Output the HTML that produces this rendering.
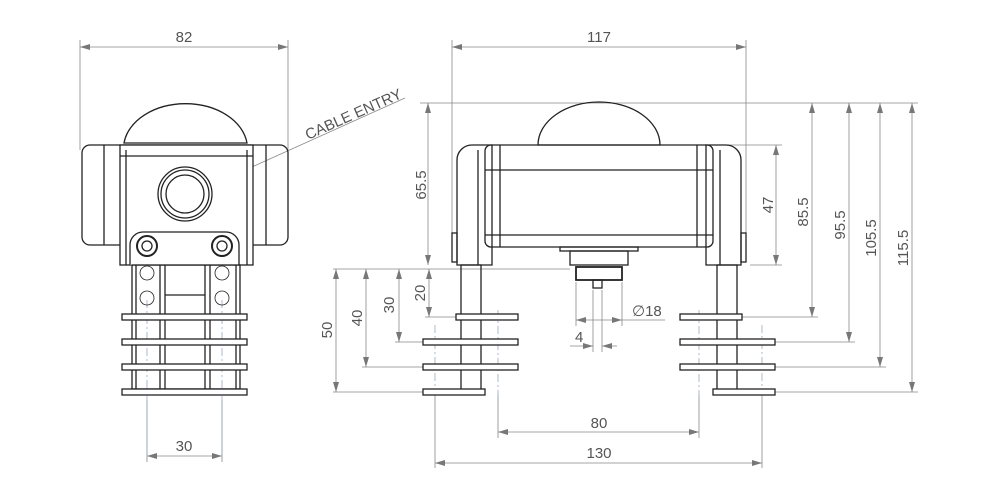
<!DOCTYPE html>
<html><head><meta charset="utf-8"><style>
html,body{margin:0;padding:0;background:#fff;}
svg{display:block;}
text{font-family:"Liberation Sans",sans-serif;fill:#555;font-size:15px;}
</style></head><body>
<svg width="996" height="500" viewBox="0 0 996 500" xmlns="http://www.w3.org/2000/svg">
<defs>
<marker id="a" viewBox="0 0 10 6" refX="10" refY="3" markerWidth="10" markerHeight="6" orient="auto-start-reverse" markerUnits="userSpaceOnUse"><path d="M0,0 L10,3 L0,6 Z" fill="#777"/></marker>
</defs>
<g stroke="#888" stroke-width="0.8" fill="none">
<!-- left view dims -->
<line x1="80" y1="40" x2="80" y2="150"/><line x1="288" y1="40" x2="288" y2="150"/>
<line x1="80" y1="47" x2="288" y2="47" marker-start="url(#a)" marker-end="url(#a)"/>
<line x1="147" y1="400" x2="147" y2="462"/><line x1="222" y1="400" x2="222" y2="462"/>
<line x1="147" y1="456" x2="222" y2="456" marker-start="url(#a)" marker-end="url(#a)"/>
<line x1="152" y1="212" x2="405" y2="98"/>
<!-- right view dims -->
<line x1="452" y1="40" x2="452" y2="235"/><line x1="746" y1="40" x2="746" y2="235"/>
<line x1="452" y1="47" x2="746" y2="47" marker-start="url(#a)" marker-end="url(#a)"/>
<line x1="420" y1="103" x2="918" y2="103"/>
<line x1="428" y1="103" x2="428" y2="265" marker-start="url(#a)" marker-end="url(#a)"/>
<line x1="700" y1="145" x2="782" y2="145"/><line x1="750" y1="265" x2="782" y2="265"/>
<line x1="776" y1="145" x2="776" y2="265" marker-start="url(#a)" marker-end="url(#a)"/>
<line x1="742" y1="317" x2="818" y2="317"/><line x1="775" y1="342" x2="855" y2="342"/>
<line x1="775" y1="367" x2="886" y2="367"/><line x1="775" y1="392" x2="918" y2="392"/>
<line x1="812" y1="103" x2="812" y2="317" marker-start="url(#a)" marker-end="url(#a)"/>
<line x1="849" y1="103" x2="849" y2="342" marker-start="url(#a)" marker-end="url(#a)"/>
<line x1="880" y1="103" x2="880" y2="367" marker-start="url(#a)" marker-end="url(#a)"/>
<line x1="912" y1="103" x2="912" y2="392" marker-start="url(#a)" marker-end="url(#a)"/>
<line x1="333" y1="269" x2="570" y2="269"/>
<line x1="425" y1="317" x2="456" y2="317"/><line x1="395" y1="342" x2="423" y2="342"/>
<line x1="362" y1="367" x2="423" y2="367"/><line x1="333" y1="392" x2="423" y2="392"/>
<line x1="429" y1="269" x2="429" y2="317" marker-start="url(#a)" marker-end="url(#a)"/>
<line x1="399" y1="269" x2="399" y2="342" marker-start="url(#a)" marker-end="url(#a)"/>
<line x1="366" y1="269" x2="366" y2="367" marker-start="url(#a)" marker-end="url(#a)"/>
<line x1="336" y1="269" x2="336" y2="392" marker-start="url(#a)" marker-end="url(#a)"/>
<line x1="435" y1="395" x2="435" y2="468"/><line x1="498" y1="395" x2="498" y2="438"/>
<line x1="699" y1="395" x2="699" y2="438"/><line x1="762" y1="395" x2="762" y2="468"/>
<line x1="498" y1="432" x2="699" y2="432" marker-start="url(#a)" marker-end="url(#a)"/>
<line x1="435" y1="463" x2="762" y2="463" marker-start="url(#a)" marker-end="url(#a)"/>
<line x1="576" y1="282" x2="576" y2="326"/><line x1="622" y1="282" x2="622" y2="326"/>
<line x1="576" y1="320" x2="622" y2="320" marker-start="url(#a)" marker-end="url(#a)"/>
<line x1="622" y1="320" x2="665" y2="320"/>
<line x1="593" y1="290" x2="593" y2="352"/><line x1="602" y1="290" x2="602" y2="352"/>
<line x1="570" y1="346" x2="593" y2="346" marker-end="url(#a)"/>
<line x1="602" y1="346" x2="617" y2="346" marker-start="url(#a)"/>
</g>
<g stroke="#9ab" stroke-width="0.8" stroke-dasharray="8,3,2,3" fill="none">
<line x1="147" y1="300" x2="147" y2="460"/><line x1="222" y1="300" x2="222" y2="460"/>
<line x1="435" y1="325" x2="435" y2="400"/><line x1="498" y1="310" x2="498" y2="400"/>
<line x1="699" y1="310" x2="699" y2="400"/><line x1="762" y1="325" x2="762" y2="400"/>
</g>
<!-- left view geometry -->
<g stroke="#222" stroke-width="1.3" fill="none">
<path d="M124,143 A62,45 0 0 1 247,143 Z"/>
<rect x="82" y="145" width="206" height="100" rx="8"/>
<rect x="120" y="145" width="133" height="120" fill="#fff"/>
<line x1="104" y1="145" x2="104" y2="245"/><line x1="266" y1="145" x2="266" y2="245"/>
<line x1="126" y1="150" x2="126" y2="265"/><line x1="247" y1="150" x2="247" y2="265"/>
<line x1="120" y1="156" x2="253" y2="156"/>
<circle cx="185" cy="194" r="27"/><circle cx="185" cy="194" r="24"/><circle cx="185" cy="194" r="19"/>
<path d="M130,265 V245 A13,13 0 0 1 143,232 H226 A13,13 0 0 1 239,245 V265" fill="#fff"/>
<circle cx="147" cy="246" r="10" stroke-width="2"/><circle cx="147" cy="246" r="5"/>
<circle cx="222" cy="246" r="10" stroke-width="2"/><circle cx="222" cy="246" r="5"/>
<rect x="132" y="265" width="108" height="124"/>
<line x1="160" y1="265" x2="160" y2="389"/><line x1="165" y1="265" x2="165" y2="389"/>
<line x1="205" y1="265" x2="205" y2="389"/><line x1="210" y1="265" x2="210" y2="389"/>
<line x1="136" y1="265" x2="136" y2="389"/><line x1="236" y1="265" x2="236" y2="389"/>
<line x1="165" y1="295" x2="205" y2="295"/>
<circle cx="147" cy="273" r="7" stroke-width="0.8"/><circle cx="147" cy="298" r="7" stroke-width="0.8"/>
<circle cx="222" cy="273" r="7" stroke-width="0.8"/><circle cx="222" cy="298" r="7" stroke-width="0.8"/>
<rect x="122" y="314" width="125" height="6" fill="#fff"/>
<rect x="122" y="339" width="125" height="6" fill="#fff"/>
<rect x="122" y="364" width="125" height="6" fill="#fff"/>
<rect x="122" y="389" width="125" height="6" fill="#fff"/>
</g>
<!-- right view geometry -->
<g stroke="#222" stroke-width="1.3" fill="none">
<path d="M538,145 A61,43 0 0 1 660,145 Z"/>
<rect x="485" y="145" width="228" height="102" rx="6"/>
<line x1="485" y1="170" x2="713" y2="170"/><line x1="485" y1="235" x2="713" y2="235"/>
<line x1="500" y1="145" x2="500" y2="247"/><line x1="697" y1="145" x2="697" y2="247"/>
<path d="M492,265 H457 V160 A15,15 0 0 1 472,145 H492 Z"/>
<line x1="478" y1="150" x2="478" y2="265"/>
<path d="M706,265 H741 V160 A15,15 0 0 0 726,145 H706 Z"/>
<line x1="720" y1="150" x2="720" y2="265"/>
<rect x="452" y="233" width="5" height="29"/><rect x="741" y="233" width="5" height="29"/>
<rect x="560" y="247" width="78" height="4"/>
<rect x="570" y="251" width="58" height="14"/>
<rect x="576" y="267" width="46" height="13" stroke-width="1.8"/>
<rect x="593" y="280" width="9" height="8"/>
<rect x="461" y="265" width="20" height="127"/>
<rect x="717" y="265" width="20" height="127"/>
<rect x="456" y="314" width="62" height="6" fill="#fff"/>
<rect x="423" y="339" width="95" height="6" fill="#fff"/>
<rect x="423" y="364" width="95" height="6" fill="#fff"/>
<rect x="423" y="389" width="62" height="6" fill="#fff"/>
<rect x="680" y="314" width="62" height="6" fill="#fff"/>
<rect x="680" y="339" width="95" height="6" fill="#fff"/>
<rect x="680" y="364" width="95" height="6" fill="#fff"/>
<rect x="713" y="389" width="62" height="6" fill="#fff"/>
</g>
<!-- labels -->
<text x="184" y="42" text-anchor="middle">82</text>
<text x="184" y="451" text-anchor="middle">30</text>
<text x="599" y="42" text-anchor="middle">117</text>
<text x="599" y="428" text-anchor="middle">80</text>
<text x="599" y="458" text-anchor="middle">130</text>
<text x="632" y="316">∅18</text>
<text x="575" y="342">4</text>
<text transform="translate(308,140) rotate(-24)" font-size="14">CABLE ENTRY</text>
<text transform="translate(426,185) rotate(-90)" text-anchor="middle">65.5</text>
<text transform="translate(773,205) rotate(-90)" text-anchor="middle">47</text>
<text transform="translate(808,212) rotate(-90)" text-anchor="middle">85.5</text>
<text transform="translate(845,225) rotate(-90)" text-anchor="middle">95.5</text>
<text transform="translate(876,238) rotate(-90)" text-anchor="middle">105.5</text>
<text transform="translate(908,248) rotate(-90)" text-anchor="middle">115.5</text>
<text transform="translate(425,293) rotate(-90)" text-anchor="middle">20</text>
<text transform="translate(394,305) rotate(-90)" text-anchor="middle">30</text>
<text transform="translate(362,318) rotate(-90)" text-anchor="middle">40</text>
<text transform="translate(332,330) rotate(-90)" text-anchor="middle">50</text>
</svg>
</body></html>
